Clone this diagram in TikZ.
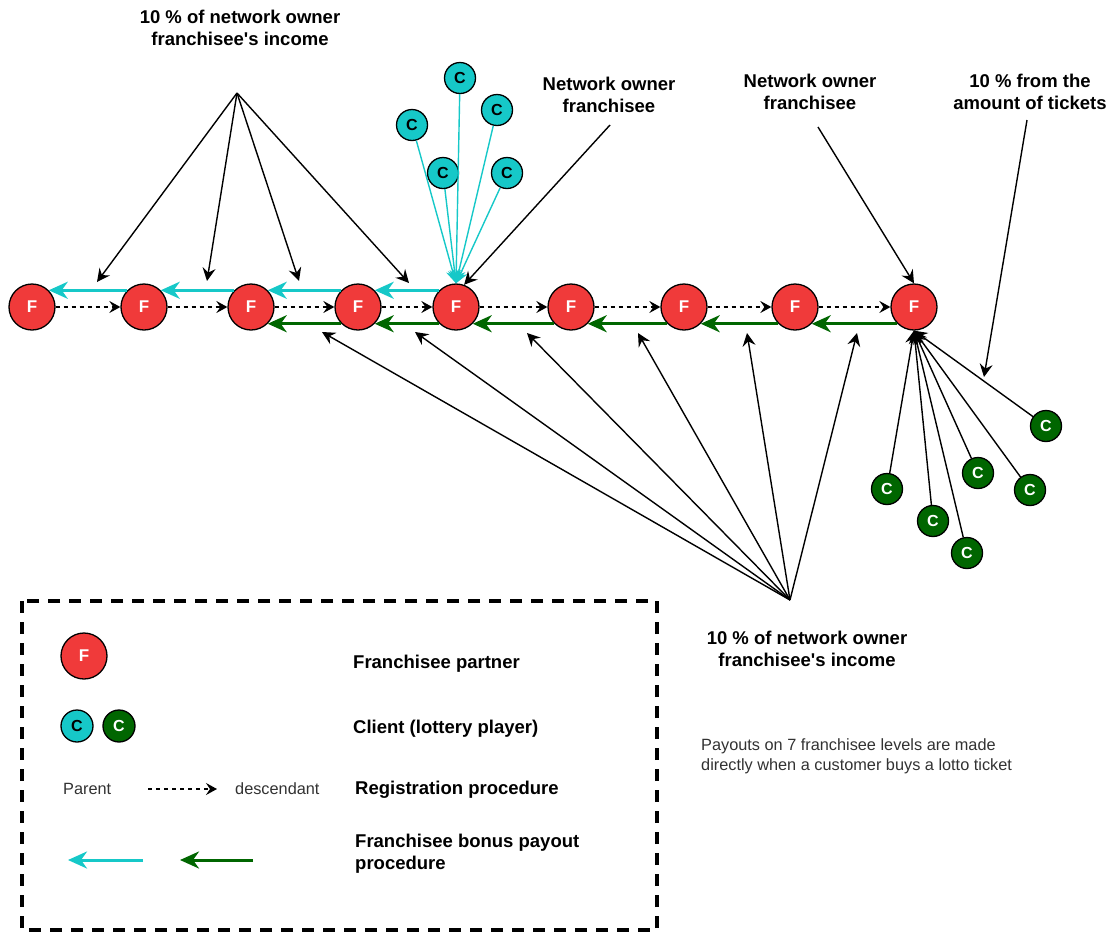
\documentclass[tikz,border=0pt]{standalone}
\usepackage{fontspec}
\setmainfont{Liberation Sans}
\usetikzlibrary{arrows.meta}
\definecolor{fred}{RGB}{240,58,58}
\definecolor{ccyan}{RGB}{22,200,200}
\definecolor{cgreen}{RGB}{0,102,0}
\definecolor{notegray}{RGB}{50,50,50}

\begin{document}
\begin{tikzpicture}[x=1pt,y=-1pt,
  franchisee/.style={circle,draw=black,line width=1.3pt,fill=fred,minimum size=46pt,
    inner sep=0pt,text=white,font=\bfseries\fontsize{17}{17}\selectfont},
  clientc/.style={circle,draw=black,line width=1.3pt,fill=ccyan,minimum size=31pt,
    inner sep=0pt,text=black,font=\bfseries\fontsize{16}{16}\selectfont},
  clientg/.style={clientc,fill=cgreen,text=white},
  tipsm/.style={-{Stealth[length=13pt 0,width=13pt 0,inset=4.5pt 0]}},
  regarrow/.style={-{Stealth[length=11pt 0,width=12pt 0,inset=4pt 0]},line width=1.3pt,dash pattern=on 4pt off 4pt},
  ptr/.style={tipsm,line width=1.4pt},
  payc/.style={draw=ccyan,line width=3pt,-{Stealth[length=19pt 0,width=17pt 0,inset=6pt 0]}},
  payg/.style={payc,draw=cgreen},
  cyline/.style={tipsm,draw=ccyan,line width=1.4pt},
  lbl/.style={font=\bfseries\fontsize{18.5}{22}\selectfont,align=center,inner sep=0pt},
  leglbl/.style={font=\bfseries\fontsize{18.5}{22}\selectfont,align=left,anchor=west,inner sep=0pt},
  smalltxt/.style={font=\fontsize{16.3}{20}\selectfont,text=notegray,align=left,inner sep=0pt}
]
\useasboundingbox (0,0) rectangle (1112,935);

% chain of franchisees
\foreach \n/\x in {1/32,2/144,3/251,4/358,5/456,6/571,7/684,8/795,9/914}
  \node[franchisee] (F\n) at (\x,307) {F};

% registration: parent to descendant
\foreach \a/\b in {1/2,2/3,3/4,4/5,5/6,6/7,7/8,8/9}
  \draw[regarrow] (F\a.east) -- (F\b.west);

% bonus payouts upward
\foreach \a/\b in {2/1,3/2,4/3,5/4}
  \draw[payc] (F\a.135) -- (F\b.45);
\foreach \a/\b in {4/3,5/4,6/5,7/6,8/7,9/8}
  \draw[payg] (F\a.-135) -- (F\b.-45);

% clients of the network owner on the left branch
\node[clientc] (t1) at (460,78) {C};
\node[clientc] (t2) at (497,110) {C};
\node[clientc] (t3) at (412,125) {C};
\node[clientc] (t4) at (443,173) {C};
\node[clientc] (t5) at (507,173) {C};
\foreach \c in {t1,t2,t3,t4,t5}
  \draw[cyline] (\c) -- (F5.north);

% clients of the right network owner
\node[clientg] (g1) at (887,489) {C};
\node[clientg] (g2) at (933,521) {C};
\node[clientg] (g3) at (967,553) {C};
\node[clientg] (g4) at (978,473) {C};
\node[clientg] (g5) at (1030,490) {C};
\node[clientg] (g6) at (1046,426) {C};
\foreach \c in {g1,g2,g3,g4,g5,g6}
  \draw[ptr] (\c) -- (F9.south);

% labels
\node[lbl] (income1) at (240,28) {10 \% of network owner\\franchisee\textquotesingle s income};
\node[lbl] (owner1) at (609,95) {Network owner\\franchisee};
\node[lbl] (owner2) at (810,92) {Network owner\\franchisee};
\node[lbl] (tickets) at (1030,92) {10 \% from the\\amount of tickets};
\node[lbl] (income2) at (807,649) {10 \% of network owner\\franchisee\textquotesingle s income};

% upper income arrows
\coordinate (src1) at (237,93);
\coordinate (u1) at (97,282);
\coordinate (u2) at (207,281);
\coordinate (u3) at (299,281);
\coordinate (u4) at (409,283);
\foreach \p in {u1,u2,u3,u4}
  \draw[ptr] (src1) -- (\p);

% lower income arrows
\coordinate (src2) at (790,600);
\coordinate (d1) at (322,332);
\coordinate (d2) at (415,332);
\coordinate (d3) at (527,333);
\coordinate (d4) at (638,333);
\coordinate (d5) at (747,333);
\coordinate (d6) at (857,333);
\foreach \p in {d1,d2,d3,d4,d5,d6}
  \draw[ptr] (src2) -- (\p);

% network owner pointers
\coordinate (o1) at (610,125);
\coordinate (o2) at (818,127);
\draw[ptr] (o1) -- (F5.70);
\draw[ptr] (o2) -- (F9.north);

% ticket share pointer
\coordinate (k1) at (1027,120);
\coordinate (k2) at (984,377);
\draw[ptr] (k1) -- (k2);

% note
\node[smalltxt,anchor=west] (note) at (701,756)
  {Payouts on 7 franchisee levels are made\\directly when a customer buys a lotto ticket};

% legend
\draw[line width=4pt,dash pattern=on 12pt off 9pt] (22,601) rectangle (657,930);
\node[franchisee] (lf) at (84,656) {F};
\node[clientc,minimum size=32pt] (lc1) at (77,726) {C};
\node[clientg,minimum size=32pt] (lc2) at (119,726) {C};
\node[leglbl] (lt1) at (353,664) {Franchisee partner};
\node[leglbl] (lt2) at (353,729) {Client (lottery player)};
\node[smalltxt,anchor=west] (lpar) at (63,789) {Parent};
\coordinate (la1) at (148,789);
\coordinate (la2) at (217,789);
\draw[regarrow] (la1) -- (la2);
\node[smalltxt,anchor=west] (ldes) at (235,789) {descendant};
\node[leglbl] (lt3) at (355,790) {Registration procedure};
\coordinate (lc1a) at (143,860);
\coordinate (lc1b) at (68,860);
\draw[payc] (lc1a) -- (lc1b);
\coordinate (lg1a) at (253,860);
\coordinate (lg1b) at (180,860);
\draw[payg] (lg1a) -- (lg1b);
\node[leglbl] (lt4) at (355,854) {Franchisee bonus payout\\procedure};
\end{tikzpicture}
\end{document}
